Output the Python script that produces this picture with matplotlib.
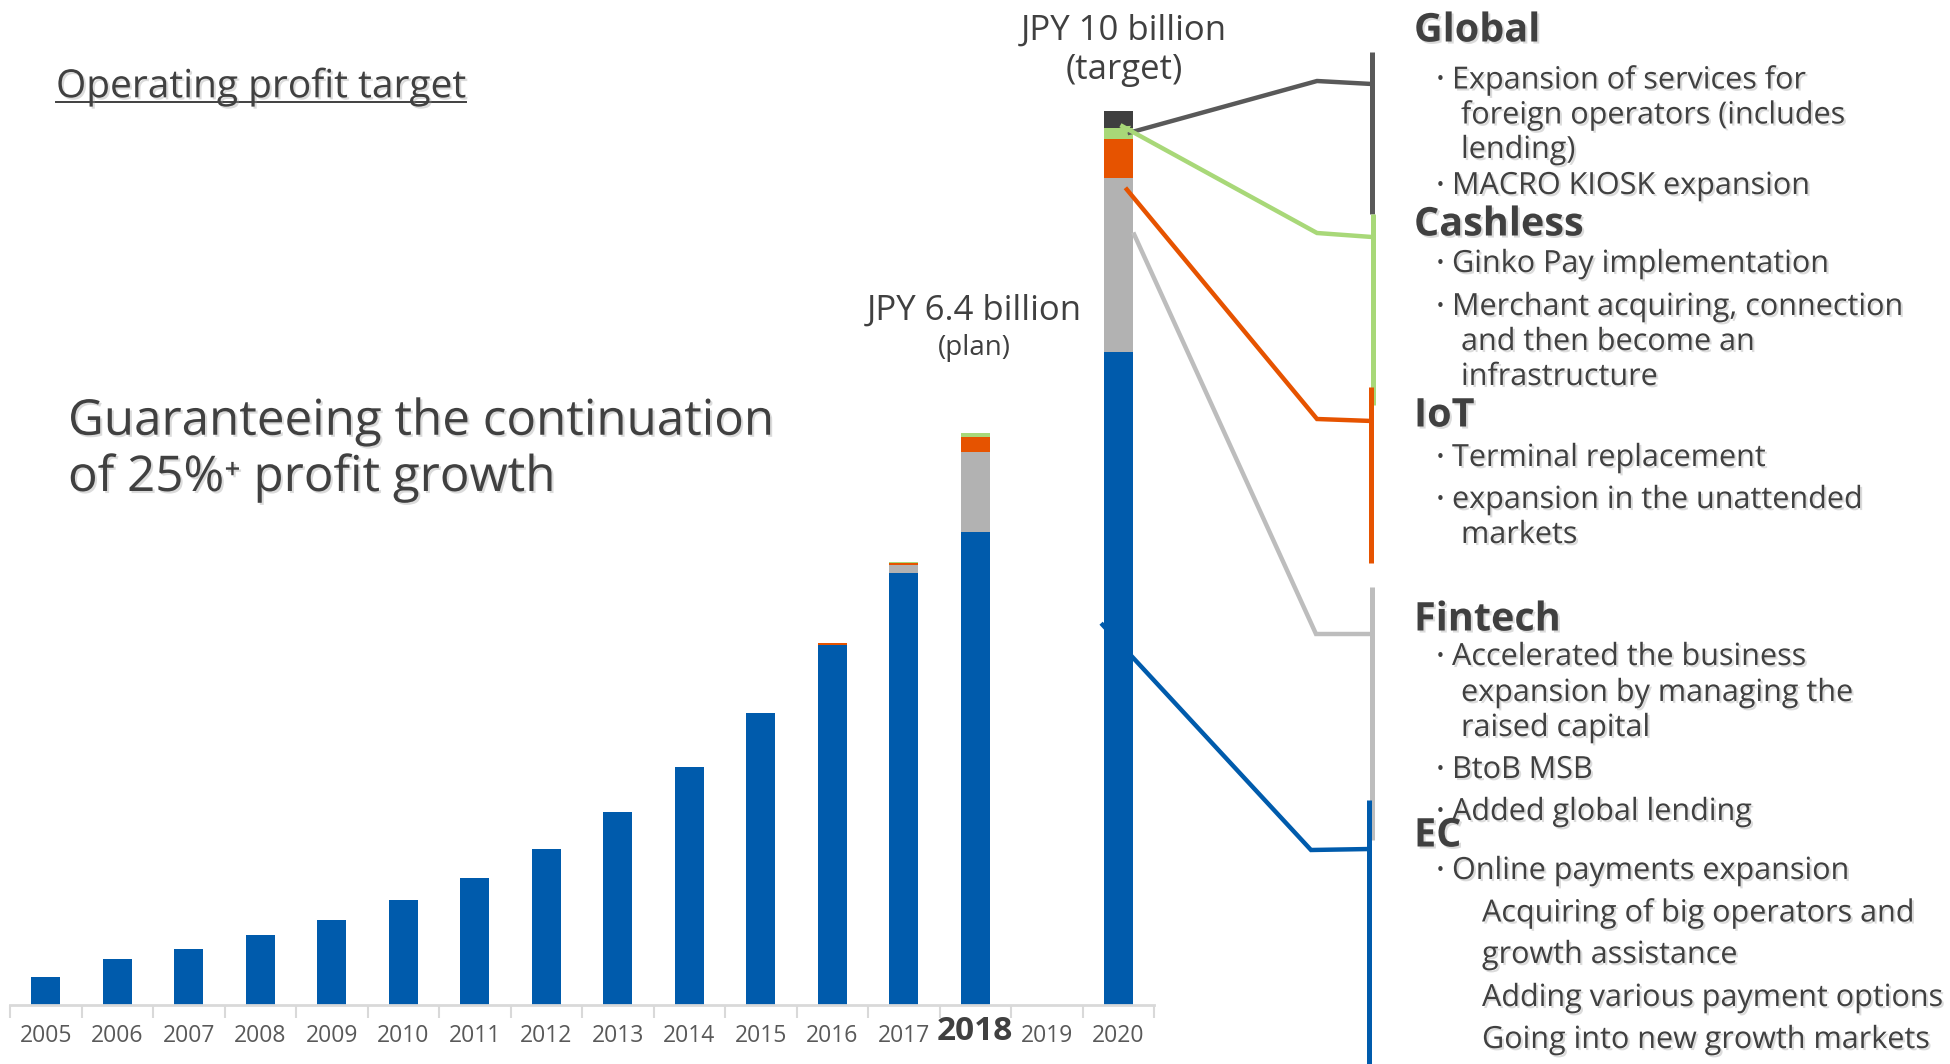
import matplotlib
matplotlib.use("Agg")
import matplotlib.pyplot as plt
import matplotlib.patheffects as pe
import numpy as np

plt.rcParams['font.family'] = ['Open Sans', 'DejaVu Sans']

# operating profit by segment, JPY billion
years = ["2005", "2006", "2007", "2008", "2009", "2010", "2011", "2012",
         "2013", "2014", "2015", "2016", "2017", "2018", "2019", "2020"]
ec       = [0.31, 0.52, 0.63, 0.78, 0.95, 1.17, 1.42, 1.75, 2.16, 2.66, 3.27, 4.03, 4.83, 5.29, 0, 7.30]
fintech  = [0, 0, 0, 0, 0, 0, 0, 0, 0, 0, 0, 0, 0.09, 0.89, 0, 1.95]
iot      = [0, 0, 0, 0, 0, 0, 0, 0, 0, 0, 0, 0.015, 0.02, 0.17, 0, 0.44]
cashless = [0, 0, 0, 0, 0, 0, 0, 0, 0, 0, 0, 0, 0.02, 0.05, 0, 0.12]
global_  = [0, 0, 0, 0, 0, 0, 0, 0, 0, 0, 0, 0, 0, 0, 0, 0.19]

plan_label = ("JPY 6.4 billion", "(plan)")
target_label = ("JPY 10 billion", "(target)")
title = "Operating profit target"
headline = ["Guaranteeing the continuation", "of 25%\u207a profit growth"]

# right-hand panel: (kind, text)
panel = [
    ("h", "Global"),
    ("b", "Expansion of services for"),
    ("c", "foreign operators (includes"),
    ("c", "lending)"),
    ("b", "MACRO KIOSK expansion"),
    ("h", "Cashless"),
    ("b", "Ginko Pay implementation"),
    ("b", "Merchant acquiring, connection"),
    ("c", "and then become an"),
    ("c", "infrastructure"),
    ("h", "IoT"),
    ("b", "Terminal replacement"),
    ("b", "expansion in the unattended"),
    ("c", "markets"),
    ("h", "Fintech"),
    ("b", "Accelerated the business"),
    ("c", "expansion by managing the"),
    ("c", "raised capital"),
    ("b", "BtoB MSB"),
    ("b", "Added global lending"),
    ("h", "EC"),
    ("b", "Online payments expansion"),
    ("s", "Acquiring of big operators and"),
    ("s", "growth assistance"),
    ("s", "Adding various payment options"),
    ("s", "Going into new growth markets"),
]
panel_y = [27, 76, 111, 146, 182, 221, 260, 303, 338, 373, 412, 454, 496, 531,
           616, 653, 689, 724, 766, 808, 832, 867, 909, 951, 994, 1036]

BLUE, GREY, ORANGE, GREEN, DARK = "#005BAC", "#B2B2B2", "#E65300", "#A8D878", "#3F3F3F"
TXT = "#404040"
shadow = [pe.withSimplePatchShadow(offset=(1.5, -1.5), shadow_rgbFace="#9a9a9a", alpha=0.35)]
dy = 4  # va="center" sits a little high for this font

W, H = 1950, 1064
fig = plt.figure(figsize=(W / 100, H / 100), dpi=100)
fig.patch.set_facecolor("white")

ax = fig.add_axes([10 / W, 59 / H, 1144 / W, 1005 / H])
x = np.arange(len(years))
bottom = np.zeros(len(years))
for vals, col in zip([ec, fintech, iot, cashless, global_], [BLUE, GREY, ORANGE, GREEN, DARK]):
    vals = np.array(vals)
    ax.bar(x, vals, 0.4, bottom=bottom, color=col, linewidth=0)
    bottom += vals

ax.set_xlim(-0.5, len(years) - 0.5)
ax.set_ylim(0, 11.24)
ax.set_yticks([])
for s in ["left", "right", "top"]:
    ax.spines[s].set_visible(False)
ax.spines["bottom"].set_color("#D9D9D9")
ax.spines["bottom"].set_linewidth(2)
ax.set_xticks(x)
ax.set_xticklabels(years)
ax.set_xticks(np.arange(-0.5, len(years)), minor=True)
ax.tick_params(axis="x", which="major", length=0, pad=14, labelsize=16.5, labelcolor="#595959")
ax.tick_params(axis="x", which="minor", length=9, width=1.5, color="#D9D9D9")
for lab in ax.get_xticklabels():
    if lab.get_text() == "2018":
        lab.set_fontweight("bold")
        lab.set_fontsize(24)
        lab.set_color(TXT)
        lab.set_y(0.009)

# overlay in pixel coordinates (y down) for annotations and the side panel
ov = fig.add_axes([0, 0, 1, 1], zorder=3)
ov.set_xlim(0, W)
ov.set_ylim(H, 0)
ov.axis("off")
ov.patch.set_alpha(0)


def to_px(px, py):
    return ov.transData.inverted().transform(ax.transData.transform((px, py)))


i20 = years.index("2020")
i18 = years.index("2018")
top20 = bottom[i20]
top18 = bottom[i18]

# bar labels
lx, ly = to_px(i20, top20)
ov.text(lx + 6, 27 + dy, target_label[0], ha="center", va="center", fontsize=25, color=TXT)
ov.text(lx + 6, 66 + dy, target_label[1], ha="center", va="center", fontsize=25, color=TXT)
lx, ly = to_px(i18, top18)
ov.text(lx - 1, 307 + dy, plan_label[0], ha="center", va="center", fontsize=25, color=TXT)
ov.text(lx - 1, 344 + dy, plan_label[1], ha="center", va="center", fontsize=20, color=TXT)

# connectors from the 2020 stack to the segment brackets
c20 = np.cumsum([ec[i20], fintech[i20], iot[i20], cashless[i20], global_[i20]])
connectors = [
    (DARK, (i20 + 0.13, c20[3] - 0.06), [(1317, 81), (1372, 84)], (52, 214), 1372),
    (GREEN, (i20 + 0.03, c20[3] + 0.03), [(1317, 233), (1372, 237)], (214, 405), 1373),
    (ORANGE, (i20 + 0.10, c20[1] - 0.11), [(1317, 419), (1372, 421)], (387, 563), 1371),
    ("#BDBDBD", (i20 + 0.21, c20[1] - 0.61), [(1316, 634), (1372, 634)], (587, 840), 1372),
    (BLUE, (i20 - 0.24, c20[0] - 3.03), [(1311, 850), (1370, 849)], (800, 1064), 1369),
]
for col, start, pts, (y0, y1), vx in connectors:
    ov.plot([vx, vx], [y0, y1], color=col if col != DARK else "#595959", lw=3.6,
            solid_capstyle="butt")
for col, start, pts, (y0, y1), vx in connectors:
    sx, sy = to_px(*start)
    xs = [sx] + [p[0] for p in pts]
    ys = [sy] + [p[1] for p in pts]
    ov.plot(xs, ys, color=col if col != DARK else "#595959", lw=3.2,
            solid_joinstyle="miter", solid_capstyle="butt")
    if col == GREEN:
        ov.annotate("", xy=(sx, sy), xytext=(sx + 14, sy + 7),
                    arrowprops=dict(arrowstyle="-|>,head_length=0.5,head_width=0.3",
                                    color=GREEN, lw=0))

# title and headline
t = ov.text(56, 83 + dy, title, ha="left", va="center", fontsize=28, color=TXT,
            path_effects=shadow)
fig.canvas.draw()
bb = t.get_window_extent().transformed(ov.transData.inverted())
ov.plot([bb.x0, bb.x1], [102, 102], color=TXT, lw=1.4, path_effects=shadow)

ov.text(68, 418 + dy, headline[0], ha="left", va="center", fontsize=35.5, color=TXT,
        path_effects=shadow)
ov.text(68, 474 + dy, headline[1], ha="left", va="center", fontsize=35.5, color=TXT,
        path_effects=shadow)

# side panel
for (kind, txt), y in zip(panel, panel_y):
    y = y + dy
    if kind == "h":
        ov.text(1414, y, txt, ha="left", va="center", fontsize=28.5, fontweight="bold",
                color=TXT, path_effects=shadow)
    elif kind == "b":
        ov.text(1440, y, "\u30fb", ha="center", va="center", fontsize=15,
                family=["Noto Sans CJK JP"], color=TXT)
        ov.text(1452, y, txt, ha="left", va="center", fontsize=22,
                color=TXT, path_effects=shadow)
    elif kind == "c":
        ov.text(1461, y, txt, ha="left", va="center", fontsize=22,
                color=TXT, path_effects=shadow)
    else:
        ov.text(1482, y, txt, ha="left", va="center", fontsize=22,
                color=TXT, path_effects=shadow)

fig.savefig("out.png", dpi=100, facecolor="white")
